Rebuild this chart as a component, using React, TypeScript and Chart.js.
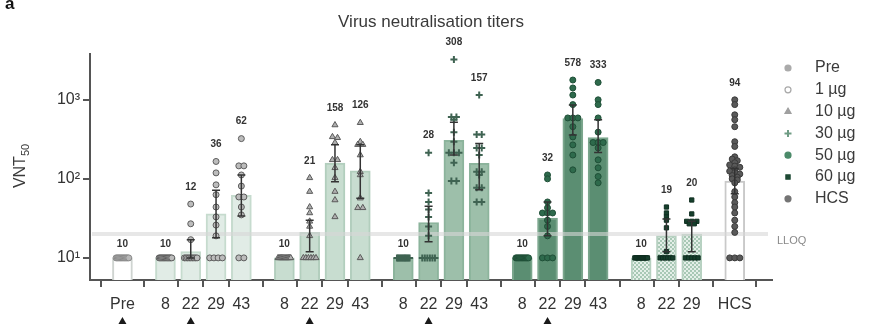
import React, { useEffect, useRef } from 'react';
import { Chart, registerables } from 'chart.js';
import { drawPoint } from 'chart.js/helpers';

Chart.register(...registerables);

const FONT = '"Liberation Sans", Arial, Helvetica, sans-serif';

// ---------- data ----------
const columnLabels = ['Pre', '8', '22', '29', '43', '8', '22', '29', '43', '8', '22', '29', '43', '8', '22', '29', '43', '8', '22', '29', 'HCS'];
const columnGroup = [0, 1, 1, 1, 1, 2, 2, 2, 2, 3, 3, 3, 3, 4, 4, 4, 4, 5, 5, 5, 6];
const groupNames = ['Pre', '1 µg', '10 µg', '30 µg', '50 µg', '60 µg', 'HCS'];
const gmtValues = [10, 10, 12, 36, 62, 10, 21, 158, 126, 10, 28, 308, 157, 10, 32, 578, 333, 10, 19, 20, 94];
const ciLow = [null, null, 10, 18, 34, null, 12, 92, 57, null, 16, 200, 73, null, 19, 360, 215, null, 12, 12, 65];
const ciHigh = [null, null, 17, 72, 112, null, 30, 270, 270, null, 45, 520, 280, null, 51, 860, 560, null, 31, 29, 135];
const boostColumns = [0, 2, 6, 10, 14];
const yTickValues = [10, 100, 1000];
const yTickLabels = ['10¹', '10²', '10³'];
const LLOQ = 20;

const ten = (n: number) => new Array(n).fill(10);
const ptsPre = [ten(12)];
const pts1ug = [
  ten(12),
  [48, 27, 17, ...ten(9)],
  [166, 119, 84, 63, 44, 33, 26, 19, ...ten(4)],
  [323, 146, 146, 112, 81, 59, 59, 44, 35, 10, 10],
];
const pts10ug = [
  ten(12),
  [103, 69, 44, 37, 29, 25, 19, ...ten(6)],
  [480, 340, 331, 287, 174, 174, 138, 103, 69, 54, 33],
  [513, 295, 271, 271, 200, 123, 112, 57, 43, 43, 10],
];
const pts30ug = [
  ten(12),
  [214, 66, 51, 41, 33, 25, 19, ...ten(6)],
  [3236, 605, 605, 560, 390, 295, 214, 214, 214, 160, 94, 94],
  [1150, 363, 363, 246, 246, 200, 123, 123, 112, 77, 77, 51, 51],
];
const pts50ug = [
  ten(12),
  [112, 100, 51, 43, 37, 37, 37, 30, 25, 19, 10, 10, 10],
  [1780, 1413, 1150, 870, 590, 590, 590, 457, 339, 269, 200, 130],
  [1660, 1000, 870, 590, 390, 288, 288, 288, 246, 174, 138, 107, 89],
];
const pts60ug = [
  ten(12),
  [44, 37, 33, 30, 24, 12, ...ten(6)],
  [54, 36, 29, 29, 29, 27, 27, ...ten(5)],
];
const ptsHCS = [
  [1000, 870, 646, 560, 457, 295, 257, 190, 178, 170, 160, 150, 145, 140, 130, 125, 120, 115, 110, 105, 100, 97, 89, 69, 59, 50, 44, 37, 30, 25, 21, 10, 10, 10],
];
const columnPoints = [...ptsPre, ...pts1ug, ...pts10ug, ...pts30ug, ...pts50ug, ...pts60ug, ...ptsHCS];

// ---------- styles ----------
const barFill = ['#ffffff', '#e1ece6', '#c8ddd0', '#9dbfaa', '#5b8e72', 'PATTERN', '#ffffff'];
const barBorder = ['#cfd4d1', '#c6dbce', '#b2cebd', '#8cb49c', '#7ba68d', '#b7d1c1', '#c9c9c9'];
const pointStyles = [
  { style: 'circle', r: 3, bg: '#b8b8b8', bd: '#8a8a8a', bw: 1 },
  { style: 'circle', r: 3, bg: '#bcbcbc', bd: '#5c5c5c', bw: 1 },
  { style: 'triangle', r: 3.5, bg: '#b0b0b0', bd: '#5a5a5a', bw: 1 },
  { style: 'cross', r: 3.5, bg: '#3f6352', bd: '#3f6352', bw: 2 },
  { style: 'circle', r: 3, bg: '#2e6a4c', bd: '#1f4f37', bw: 1 },
  { style: 'rect', r: 3, bg: '#163f2c', bd: '#0f2e20', bw: 1 },
  { style: 'circle', r: 3, bg: '#595959', bd: '#3a3a3a', bw: 1 },
];
const legendColors = ['#aaaaaa', '#a8a8a8', '#a0a0a0', '#6f9c84', '#4b8a69', '#1e4a35', '#747474'];

// x layout: step 1 within a group, wider gap between groups
const GROUP_GAP = 1.7;
const xPos: number[] = [];
columnGroup.forEach((g, i) => {
  if (i === 0) xPos.push(0);
  else xPos.push(xPos[i - 1] + (g !== columnGroup[i - 1] ? GROUP_GAP : 1));
});

function jitter(values: number[]): number[] {
  const BIN = 0.04;
  const bins = new Map<number, number[]>();
  values.forEach((v, i) => {
    const b = Math.round(Math.log10(v) / BIN);
    if (!bins.has(b)) bins.set(b, []);
    bins.get(b)!.push(i);
  });
  const offs = new Array(values.length).fill(0);
  bins.forEach((idx) => {
    const n = idx.length;
    const sp = n > 1 ? Math.min(0.2, 0.5 / (n - 1)) : 0;
    idx.forEach((pi, k) => (offs[pi] = (k - (n - 1) / 2) * sp));
  });
  return offs;
}

function makeChecker(): CanvasPattern | string {
  const c = document.createElement('canvas');
  c.width = 4;
  c.height = 4;
  const g = c.getContext('2d');
  if (!g) return '#c6dccf';
  g.fillStyle = '#e4efe8';
  g.fillRect(0, 0, 4, 4);
  g.fillStyle = '#a8c8b5';
  g.fillRect(0, 0, 2, 2);
  g.fillRect(2, 2, 2, 2);
  return g.createPattern(c, 'repeat') || '#c6dccf';
}

const overlay = {
  id: 'overlay',
  afterDatasetDraw(chart: any, args: any) {
    if (args.index !== 0) return;
    const { ctx, chartArea } = chart;
    const y = chart.scales.y.getPixelForValue(LLOQ);
    ctx.save();
    ctx.strokeStyle = 'rgba(215,215,215,0.6)';
    ctx.lineWidth = 4;
    ctx.beginPath();
    ctx.moveTo(chartArea.left + 2, y);
    ctx.lineTo(chartArea.right - 4, y);
    ctx.stroke();
    ctx.restore();
  },
  afterDatasetsDraw(chart: any) {
    const { ctx } = chart;
    const xs = chart.scales.x;
    const ys = chart.scales.y;
    ctx.save();
    // error bars
    ctx.strokeStyle = '#333333';
    ctx.lineWidth = 1.5;
    columnLabels.forEach((_, i) => {
      const lo = ciLow[i];
      const hi = ciHigh[i];
      if (lo == null || hi == null) return;
      const x = xs.getPixelForValue(xPos[i]);
      const yl = ys.getPixelForValue(lo);
      const yh = ys.getPixelForValue(hi);
      ctx.beginPath();
      ctx.moveTo(x, yl);
      ctx.lineTo(x, yh);
      ctx.moveTo(x - 4, yl);
      ctx.lineTo(x + 4, yl);
      ctx.moveTo(x - 4, yh);
      ctx.lineTo(x + 4, yh);
      ctx.stroke();
    });
    // value labels
    ctx.fillStyle = '#333';
    ctx.font = `bold 10px ${FONT}`;
    ctx.textAlign = 'center';
    ctx.textBaseline = 'middle';
    columnLabels.forEach((_, i) => {
      const top = Math.max(...columnPoints[i], ciHigh[i] ?? 0, gmtValues[i]);
      const x = xs.getPixelForValue(xPos[i]);
      const off = top <= 10 ? 14 : 17;
      ctx.fillText(String(gmtValues[i]), x, ys.getPixelForValue(top) - off);
    });
    ctx.restore();
  },
  afterDraw(chart: any) {
    const { ctx, chartArea } = chart;
    const xs = chart.scales.x;
    const ys = chart.scales.y;
    ctx.save();
    // panel letter
    ctx.fillStyle = '#111';
    ctx.font = `bold 17px ${FONT}`;
    ctx.textAlign = 'left';
    ctx.textBaseline = 'alphabetic';
    ctx.fillText('a', 5, 9);
    // title
    ctx.fillStyle = '#3a3a3a';
    ctx.font = `17px ${FONT}`;
    ctx.textAlign = 'center';
    ctx.textBaseline = 'middle';
    ctx.fillText('Virus neutralisation titers', (chartArea.left + chartArea.right) / 2, 22);
    // y-axis title with subscript
    ctx.save();
    ctx.translate(21, 166);
    ctx.rotate(-Math.PI / 2);
    ctx.font = `16px ${FONT}`;
    const wMain = ctx.measureText('VNT').width;
    ctx.font = `11px ${FONT}`;
    const wSub = ctx.measureText('50').width;
    const start = -(wMain + wSub) / 2;
    ctx.textAlign = 'left';
    ctx.textBaseline = 'middle';
    ctx.font = `16px ${FONT}`;
    ctx.fillText('VNT', start, 0);
    ctx.font = `11px ${FONT}`;
    ctx.fillText('50', start + wMain, 5);
    ctx.restore();
    // LLOQ label
    ctx.fillStyle = '#8a8a8a';
    ctx.font = `11px ${FONT}`;
    ctx.textAlign = 'left';
    ctx.fillText('LLOQ', chartArea.right + 5, ys.getPixelForValue(LLOQ) + 7);
    // boost triangles
    ctx.fillStyle = '#1a1a1a';
    boostColumns.forEach((c) => {
      const x = xs.getPixelForValue(xPos[c]);
      const y = 321;
      ctx.beginPath();
      ctx.moveTo(x, y - 4);
      ctx.lineTo(x + 4, y + 3);
      ctx.lineTo(x - 4, y + 3);
      ctx.closePath();
      ctx.fill();
    });
    // legend
    const lx = 788;
    const ly0 = 68;
    const step = 21.8;
    groupNames.forEach((name, g) => {
      const y = ly0 + g * step;
      const st = pointStyles[g];
      ctx.fillStyle = g === 1 ? '#ffffff' : legendColors[g];
      ctx.strokeStyle = legendColors[g];
      ctx.lineWidth = st.style === 'cross' ? 2 : 1.2;
      drawPoint(ctx, { pointStyle: st.style as any, radius: st.r, borderWidth: ctx.lineWidth, rotation: 0 }, lx, y);
      ctx.fillStyle = '#3a3a3a';
      ctx.font = `16px ${FONT}`;
      ctx.textAlign = 'left';
      ctx.textBaseline = 'middle';
      ctx.fillText(name, 815, y);
    });
    ctx.restore();
  },
};

export default function App() {
  const ref = useRef<HTMLCanvasElement>(null);
  useEffect(() => {
    const canvas = ref.current;
    if (!canvas) return;
    const pattern = makeChecker();
    const fills = barFill.map((f) => (f === 'PATTERN' ? pattern : f));

    const scatterSets = groupNames.map((name, g) => {
      const data: { x: number; y: number }[] = [];
      columnGroup.forEach((cg, i) => {
        if (cg !== g) return;
        const vals = columnPoints[i];
        const offs = jitter(vals);
        vals.forEach((v, k) => data.push({ x: xPos[i] + offs[k], y: v }));
      });
      const st = pointStyles[g];
      return {
        type: 'scatter' as const,
        label: name,
        data,
        order: 1,
        pointStyle: st.style,
        pointRadius: st.r,
        pointBackgroundColor: st.bg,
        pointBorderColor: st.bd,
        pointBorderWidth: st.bw,
      };
    });

    const chart = new Chart(canvas, {
      type: 'bar',
      data: {
        datasets: [
          {
            type: 'bar',
            label: 'GMT',
            data: gmtValues.map((v, i) => ({ x: xPos[i], y: v })),
            backgroundColor: columnGroup.map((g) => fills[g]) as any,
            borderColor: columnGroup.map((g) => barBorder[g]),
            borderWidth: 2,
            barThickness: 20,
            order: 2,
          } as any,
          ...(scatterSets as any[]),
        ],
      },
      options: {
        responsive: false,
        animation: false,
        devicePixelRatio: 1,
        layout: { padding: { top: 54, right: 103, left: 0, bottom: 0 } },
        plugins: {
          legend: { display: false },
          title: { display: false },
          tooltip: { enabled: false },
        },
        scales: {
          x: {
            type: 'linear',
            min: -0.64,
            max: 25.03,
            afterBuildTicks: (axis: any) => {
              axis.ticks = xPos.map((v) => ({ value: v }));
            },
            afterFit: (scale: any) => {
              scale.height = 49;
            },
            ticks: {
              autoSkip: false,
              maxRotation: 0,
              padding: 8,
              color: '#333',
              font: { family: FONT, size: 16 },
              callback: (_v: any, idx: number) => columnLabels[idx],
            },
            grid: { display: true, drawOnChartArea: false, drawTicks: true, tickLength: 7, color: '#555', lineWidth: 2 },
            border: { display: true, color: '#555', width: 2 },
          },
          y: {
            type: 'logarithmic',
            min: 5.25,
            max: 3800,
            afterBuildTicks: (axis: any) => {
              axis.ticks = yTickValues.map((v) => ({ value: v }));
            },
            afterFit: (scale: any) => {
              scale.width = 90;
            },
            ticks: {
              padding: 3,
              color: '#333',
              font: { family: FONT, size: 16 },
              callback: (v: any) => {
                const k = yTickValues.indexOf(Number(v));
                return k >= 0 ? yTickLabels[k] : '';
              },
            },
            grid: { display: true, drawOnChartArea: false, drawTicks: true, tickLength: 7, color: '#555', lineWidth: 2 },
            border: { display: true, color: '#555', width: 2 },
          },
        },
      } as any,
      plugins: [overlay as any],
    });
    return () => chart.destroy();
  }, []);

  return (
    <div style={{ position: 'absolute', left: 0, top: 0, width: 875, height: 329, background: '#ffffff' }}>
      <canvas ref={ref} width={875} height={329} style={{ display: 'block', width: 875, height: 329 }} />
    </div>
  );
}
